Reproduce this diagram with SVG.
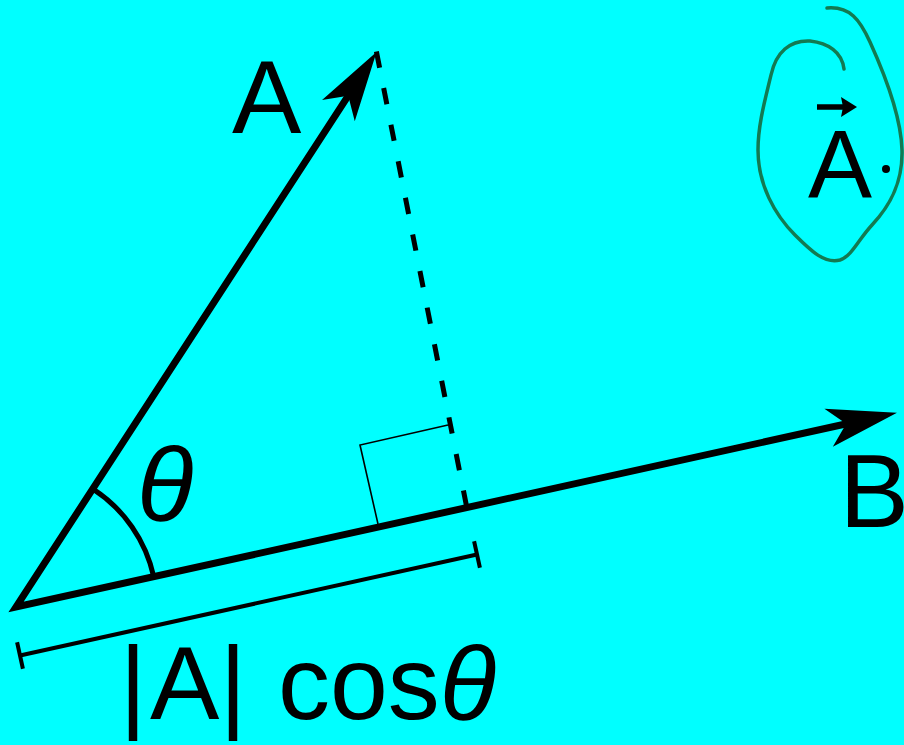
<svg xmlns="http://www.w3.org/2000/svg" width="904" height="745" viewBox="0 0 904 745">
<style>
.lbl{font-family:"Liberation Sans",Arial,sans-serif;font-size:104px;fill:#000}
.it{font-style:italic}
.vec{stroke:#000;stroke-width:7;fill:none;stroke-linejoin:miter;stroke-miterlimit:10}
.dash{stroke:#000;stroke-width:5;fill:none;stroke-dasharray:16.5 20.8}
.thin{stroke:#000;stroke-width:1.6;fill:none}
.arc{stroke:#000;stroke-width:5;fill:none}
.meas{stroke:#000;stroke-width:4;fill:none}
.loop{stroke:#137a52;stroke-width:3.5;fill:none;stroke-linecap:round}
</style>
<defs>
<marker id="ah" markerUnits="userSpaceOnUse" markerWidth="80" markerHeight="50" viewBox="-75 -25 80 50" refX="-48" refY="0" orient="auto-start-reverse">
<path d="M0,0 L-70,-19.5 L-52,0 L-70,19.5 Z" fill="#000"/>
</marker>
</defs>
<rect x="0" y="0" width="904" height="745" fill="#00ffff"/>
<g id="connectors">
<path id="vectors" class="vec" d="M350.4,92.3 L16,607 L850.1,423" marker-start="url(#ah)" marker-end="url(#ah)"/>
<path id="projection" class="dash" d="M376.4,51.5 L466.3,505"/>
<polyline id="right-angle" class="thin" points="448,425 360,445 378,524"/>
<path id="angle-arc" class="arc" d="M92.8,488.8 A141,141 0 0 1 153.7,576.6"/>
<g id="measure">
<path class="meas" d="M20,655.5 L477,554.5"/>
<path class="meas" d="M17.1,642.3 L22.9,668.7"/>
<path class="meas" d="M474.1,541.3 L479.9,567.7"/>
</g>
</g>
<g id="label-A"><text class="lbl" x="232" y="133">A</text></g>
<g id="label-B"><text class="lbl" x="839.4" y="527">B</text></g>
<g id="label-theta"><text class="lbl it" x="137" y="520">θ</text></g>
<g id="label-proj"><text class="lbl" x="119.5 150 219.5 250 278" y="719">|A| cos<tspan class="it">θ</tspan></text></g>
<g id="note">
<path class="loop" d="M844,69 C842,52 828,43 810,41 C790,40 776,52 771,75 C765,100 758,125 758,150 C758,185 775,215 795,235 C812,252 825,264 840,260 C852,256 858,240 872,225 C888,208 903,185 902,150 C901,115 885,75 870,42 C860,20 850,6 827,8"/>
<text class="lbl" style="font-size:96px" x="808" y="197">A</text>
<path d="M817,107 L845,107" stroke="#000" stroke-width="5.5" fill="none"/>
<polygon points="857,107 841,97 843,107 841,117" fill="#000"/>
<circle cx="886" cy="169" r="4" fill="#000"/>
</g>
</svg>
